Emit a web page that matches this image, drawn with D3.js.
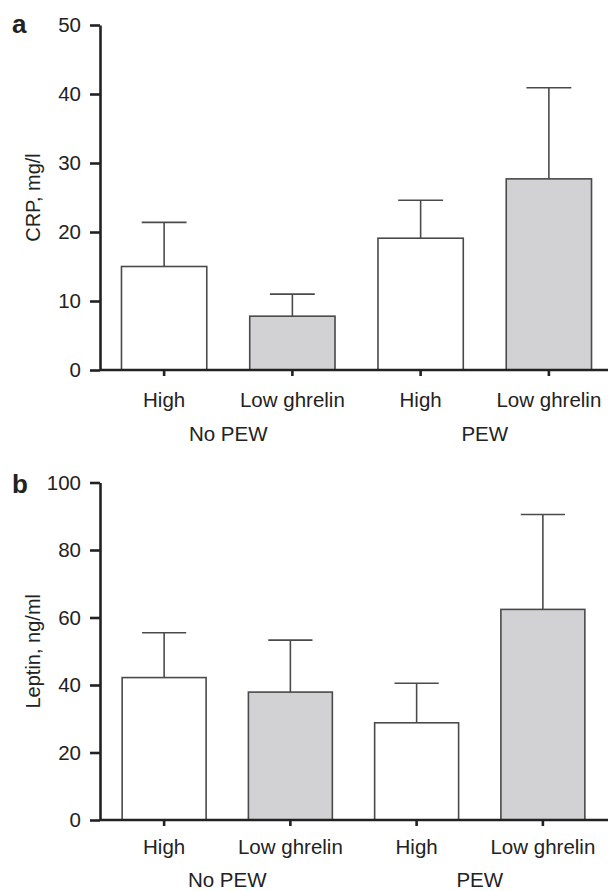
<!DOCTYPE html>
<html>
<head>
<meta charset="utf-8">
<script src="https://cdn.jsdelivr.net/npm/d3@7/dist/d3.min.js"></script>
<style>
  html, body { margin: 0; padding: 0; background: #fff; }
  svg { display: block; }
  text { font-family: "Liberation Sans", Arial, Helvetica, sans-serif; fill: #222; }
</style>
</head>
<body>
<svg id="chart" width="608" height="891"></svg>
<script>
// ---- data ----
const barIds = ["NoPEW-High", "NoPEW-Low", "PEW-High", "PEW-Low"];
const categories = ["High", "Low ghrelin", "High", "Low ghrelin"];
const ghrelinLevel = ["High", "Low", "High", "Low"];
const groups = ["No PEW", "PEW"];
const groupMembers = [[0, 1], [2, 3]];

const crpMean = [15.0, 7.8, 19.1, 27.7];
const crpUpper = [21.4, 11.0, 24.6, 40.9];
const crpTicks = [0, 10, 20, 30, 40, 50];

const leptinMean = [42.2, 37.9, 28.8, 62.4];
const leptinUpper = [55.5, 53.3, 40.5, 90.5];
const leptinTicks = [0, 20, 40, 60, 80, 100];

const fillColor = { High: "#ffffff", Low: "#d2d2d4" };

const svg = d3.select("#chart");

function drawPanel(opt) {
  const g = svg.append("g");
  const y = d3.scaleLinear().domain(opt.yDomain).range([opt.yBottom, opt.yTop]);
  const x = d3.scaleBand().domain(barIds).range(opt.xRange).padding(0);
  const barW = x.bandwidth() * 0.665;
  const capW = x.bandwidth() * 0.35;
  const cx = id => x(id) + x.bandwidth() / 2;

  // bars
  g.selectAll("rect.bar").data(barIds).join("rect")
    .attr("class", "bar")
    .attr("x", d => cx(d) - barW / 2)
    .attr("width", barW)
    .attr("y", (d, i) => y(opt.mean[i]))
    .attr("height", (d, i) => y(0) - y(opt.mean[i]))
    .attr("fill", (d, i) => fillColor[ghrelinLevel[i]])
    .attr("stroke", "#4a4a4a")
    .attr("stroke-width", 1.6);

  // error bars (upper only)
  g.selectAll("line.err").data(barIds).join("line")
    .attr("class", "err")
    .attr("x1", d => cx(d)).attr("x2", d => cx(d))
    .attr("y1", (d, i) => y(opt.mean[i]))
    .attr("y2", (d, i) => y(opt.upper[i]))
    .attr("stroke", "#4a4a4a").attr("stroke-width", 1.6);
  g.selectAll("line.cap").data(barIds).join("line")
    .attr("class", "cap")
    .attr("x1", d => cx(d) - capW / 2).attr("x2", d => cx(d) + capW / 2)
    .attr("y1", (d, i) => y(opt.upper[i]))
    .attr("y2", (d, i) => y(opt.upper[i]))
    .attr("stroke", "#4a4a4a").attr("stroke-width", 1.6);

  // y axis
  const yAxis = d3.axisLeft(y).tickValues(opt.yTicks).tickSize(10).tickSizeOuter(0).tickPadding(9);
  const ya = g.append("g").attr("transform", `translate(${opt.xAxisLeft},0)`).call(yAxis);
  ya.selectAll("path.domain").attr("stroke", "#222").attr("stroke-width", 2.6);
  ya.selectAll(".tick line").attr("stroke", "#222").attr("stroke-width", 2.6);
  ya.selectAll(".tick text").style("font-size", "20.5px").attr("fill", "#222")
    .style("font-family", '"Liberation Sans", Arial, sans-serif');

  // x axis
  const xAxis = d3.axisBottom(x).tickSize(6).tickSizeOuter(0).tickFormat((d, i) => categories[i]).tickPadding(opt.xTickPad);
  const xa = g.append("g").attr("transform", `translate(0,${opt.yBottom})`).call(xAxis);
  xa.select("path.domain").attr("d", `M${opt.xAxisLeft},0H${opt.xAxisRight}`)
    .attr("stroke", "#222").attr("stroke-width", 2.6);
  xa.selectAll(".tick line").attr("stroke", "#222").attr("stroke-width", 2.6);
  xa.selectAll(".tick text").style("font-size", "20.5px").attr("fill", "#222")
    .style("font-family", '"Liberation Sans", Arial, sans-serif');

  // group labels
  g.selectAll("text.group").data(groups).join("text")
    .attr("class", "group")
    .attr("x", (d, i) => (cx(barIds[groupMembers[i][0]]) + cx(barIds[groupMembers[i][1]])) / 2)
    .attr("y", opt.yBottom + opt.groupOffset)
    .attr("text-anchor", "middle")
    .style("font-size", "20.5px")
    .text(d => d);

  // y title
  g.append("text")
    .attr("transform", `translate(${opt.titleX},${(opt.yTop + opt.yBottom) / 2}) rotate(-90)`)
    .attr("text-anchor", "middle")
    .style("font-size", "20px")
    .text(opt.title);

  // panel letter
  g.append("text")
    .attr("x", 12).attr("y", opt.letterY)
    .style("font-size", "26px").style("font-weight", "bold")
    .text(opt.letter);
}

drawPanel({
  mean: crpMean, upper: crpUpper, yDomain: [0, 50], yTicks: crpTicks,
  yTop: 25, yBottom: 370, xRange: [100, 613], xAxisLeft: 100, xAxisRight: 608,
  xTickPad: 16, groupOffset: 71, title: "CRP, mg/l", titleX: 40, letter: "a", letterY: 33
});

drawPanel({
  mean: leptinMean, upper: leptinUpper, yDomain: [0, 100], yTicks: leptinTicks,
  yTop: 482.5, yBottom: 820, xRange: [101, 606], xAxisLeft: 100, xAxisRight: 608,
  xTickPad: 13, groupOffset: 67, title: "Leptin, ng/ml", titleX: 40, letter: "b", letterY: 493
});
</script>
</body>
</html>
